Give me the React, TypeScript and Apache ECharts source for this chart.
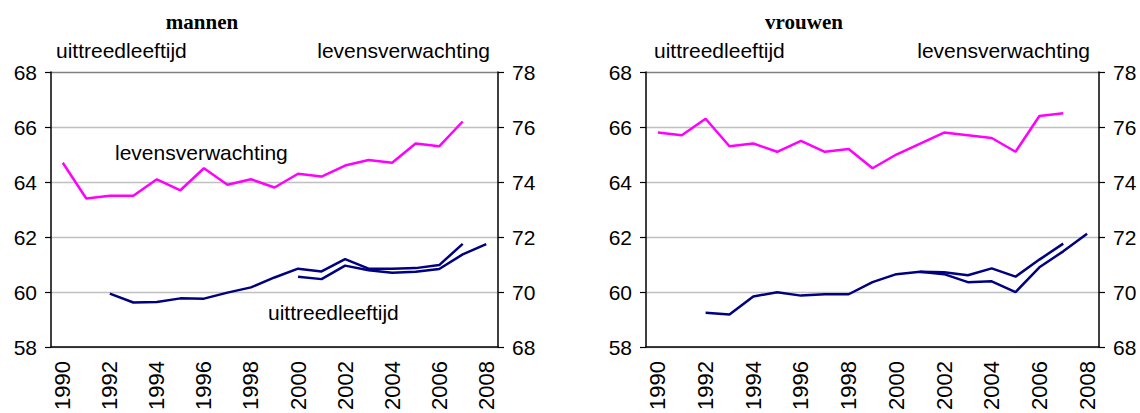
import React, { useEffect, useRef } from "react";
import * as echarts from "echarts";

const years = ["1990","1991","1992","1993","1994","1995","1996","1997","1998","1999","2000","2001","2002","2003","2004","2005","2006","2007","2008"];

// mannen
const menLife = [74.7, 73.4, 73.5, 73.5, 74.1, 73.7, 74.5, 73.9, 74.1, 73.8, 74.3, 74.2, 74.6, 74.8, 74.7, 75.4, 75.3, 76.2, null];
const menRetA = [null, null, 59.94, 59.62, 59.64, 59.77, 59.76, 59.98, 60.17, 60.53, 60.85, 60.75, 61.2, 60.85, 60.85, 60.87, 60.98, 61.75, null];
const menRetB = [null, null, null, null, null, null, null, null, null, null, 60.56, 60.47, 60.96, 60.79, 60.7, 60.74, 60.84, 61.37, 61.74];

// vrouwen
const womenLife = [75.8, 75.7, 76.3, 75.3, 75.4, 75.1, 75.5, 75.1, 75.2, 74.5, 75.0, 75.4, 75.8, 75.7, 75.6, 75.1, 76.4, 76.5, null];
const womenRetA = [null, null, 59.25, 59.18, 59.84, 59.99, 59.87, 59.92, 59.92, 60.36, 60.65, 60.74, 60.72, 60.61, 60.86, 60.56, 61.18, 61.76, null];
const womenRetB = [null, null, null, null, null, null, null, null, null, null, null, 60.74, 60.65, 60.36, 60.39, 60.0, 60.9, 61.48, 62.12];

const leftTicks = { min: 58, max: 68, interval: 2 };
const rightTicks = { min: 68, max: 78, interval: 2 };

const SANS = "'Liberation Sans', Arial, sans-serif";
const SERIF = "'Liberation Serif', 'Times New Roman', serif";
const FS = 21;
const MAGENTA = "#FF00FF";
const NAVY = "#000080";

export default function App() {
  const ref = useRef<HTMLDivElement>(null);
  useEffect(() => {
    if (!ref.current) return;
    const chart = echarts.init(ref.current, undefined, { renderer: "svg" });
    const grids = [
      { left: 51, top: 72, width: 447, height: 280 },
      { left: 646, top: 72, width: 453, height: 280 },
    ];
    const xAxis = grids.map((_, i) => ({
      type: "category",
      gridIndex: i,
      data: years,
      boundaryGap: true,
      axisLine: { lineStyle: { color: "#000", width: 1.5 } },
      axisTick: { interval: 0, length: 6, lineStyle: { color: "#000", width: 1.2 } },
      axisLabel: { interval: 1, rotate: 90, fontSize: 22, fontFamily: SANS, color: "#000", margin: 14 },
      splitLine: { show: false },
    }));
    const yAxis: any[] = [];
    grids.forEach((_, i) => {
      yAxis.push({
        type: "value",
        gridIndex: i,
        position: "left",
        ...leftTicks,
        axisLine: { show: true, lineStyle: { color: "#000", width: 1.5 } },
        axisTick: { show: true, length: 6, lineStyle: { color: "#000", width: 1.2 } },
        axisLabel: { fontSize: FS, fontFamily: SANS, color: "#000", margin: 14 },
        splitLine: {
          show: true,
          lineStyle: { color: ["#c0c0c0", "#c0c0c0", "#c0c0c0", "#c0c0c0", "#c0c0c0", "#808080"], width: 1.3 },
        },
      });
      yAxis.push({
        type: "value",
        gridIndex: i,
        position: "right",
        ...rightTicks,
        axisLine: { show: true, lineStyle: { color: "#000", width: 1.5 } },
        axisTick: { show: true, length: 6, lineStyle: { color: "#000", width: 1.2 } },
        axisLabel: { fontSize: FS, fontFamily: SANS, color: "#000", margin: 14 },
        splitLine: { show: false },
      });
    });
    const line = (name: string, data: (number | null)[], xi: number, yi: number, color: string) => ({
      type: "line",
      name,
      data,
      xAxisIndex: xi,
      yAxisIndex: yi,
      symbol: "none",
      connectNulls: false,
      lineStyle: { color, width: 2.5 },
      itemStyle: { color },
      silent: true,
    });
    const text = (t: string, x: number, y: number, align: string, font: string, weight = "normal", size = FS) => ({
      type: "text",
      x,
      y,
      style: { text: t, fill: "#000", font: `${weight} ${size}px ${font}`, align, verticalAlign: "middle" },
    });
    chart.setOption({
      animation: false,
      grid: grids,
      xAxis,
      yAxis,
      series: [
        line("levensverwachting mannen", menLife, 0, 1, MAGENTA),
        line("uittreedleeftijd mannen A", menRetA, 0, 0, NAVY),
        line("uittreedleeftijd mannen B", menRetB, 0, 0, NAVY),
        line("levensverwachting vrouwen", womenLife, 1, 3, MAGENTA),
        line("uittreedleeftijd vrouwen A", womenRetA, 1, 2, NAVY),
        line("uittreedleeftijd vrouwen B", womenRetB, 1, 2, NAVY),
      ],
      graphic: [
        text("mannen", 202, 22, "center", SERIF, "bold", 21),
        text("vrouwen", 804, 22, "center", SERIF, "bold", 21),
        text("uittreedleeftijd", 56, 50, "left", SANS),
        text("levensverwachting", 490, 50, "right", SANS),
        text("uittreedleeftijd", 654, 50, "left", SANS),
        text("levensverwachting", 1090, 50, "right", SANS),
        text("levensverwachting", 115, 152, "left", SANS),
        text("uittreedleeftijd", 268, 312, "left", SANS),
      ],
    });
    return () => chart.dispose();
  }, []);
  return (
    <div
      ref={ref}
      style={{ position: "fixed", left: 0, top: 0, width: 1140, height: 413, background: "#fff" }}
    />
  );
}
